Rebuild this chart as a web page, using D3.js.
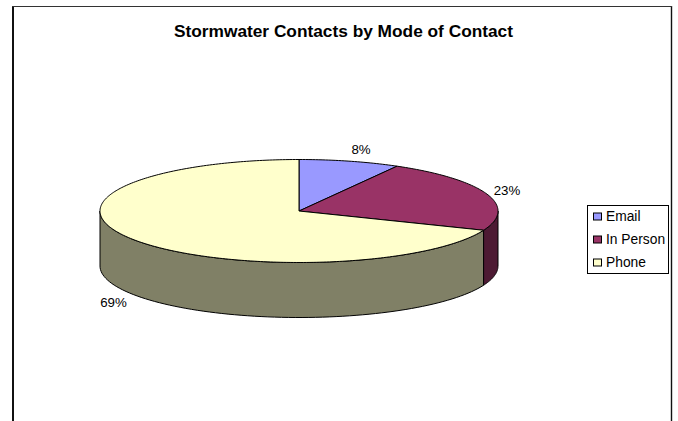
<!DOCTYPE html>
<html><head><meta charset="utf-8">
<script src="https://cdnjs.cloudflare.com/ajax/libs/d3/7.8.5/d3.min.js"></script>
<style>html,body{margin:0;padding:0;background:#fff}svg{display:block}text{font-family:"Liberation Sans",Arial,sans-serif;fill:#000}</style>
</head><body><svg id="c" width="678" height="421"></svg>
<script>
const categories=["Email","In Person","Phone"];
const values=[8.2,22.9,68.9];
const labels=["8%","23%","69%"];
const topColors=["#9999FF","#993366","#FFFFCC"];
const sideColors=["#4d4d80","#4d1a33","#808066"];
const title="Stormwater Contacts by Mode of Contact";

const W=678,H=421,cx=299,cy=211,rx=199,ry=51.5,depth=55;
const svg=d3.select("#c");
svg.append("path").attr("d",`M13 ${H} V6`).attr("stroke","#111").attr("stroke-width",2);
svg.append("path").attr("d",`M671.5 ${H} V6`).attr("stroke","#111").attr("stroke-width",1.4);
svg.append("path").attr("d",`M12 6.5 H672`).attr("stroke","#333").attr("stroke-width",1.2);
svg.append("text").attr("x",343.5).attr("y",36.5).attr("text-anchor","middle").attr("font-weight","bold").attr("font-size",16).attr("textLength",339).attr("lengthAdjust","spacingAndGlyphs").text(title);

const arcs=d3.pie().sort(null).value(d=>d)(values);
const px=a=>cx+rx*Math.sin(a), py=a=>cy-ry*Math.cos(a);
const g=svg.append("g");
const stroke=s=>s.attr("stroke","#000").attr("stroke-width",1).attr("stroke-linejoin","round");

const front=[Math.PI/2,Math.PI*1.5];
arcs.forEach((d,i)=>{
  const a0=Math.max(d.startAngle,front[0]),a1=Math.min(d.endAngle,front[1]);
  if(a1<=a0) return;
  const n=80,t=d3.range(n+1).map(k=>a0+(a1-a0)*k/n);
  const pts=t.map(a=>[px(a),py(a)]).concat(t.slice().reverse().map(a=>[px(a),py(a)+depth]));
  stroke(g.append("path").attr("d",d3.line()(pts)+"Z").attr("fill",sideColors[i]));
});
arcs.forEach((d,i)=>{
  const n=Math.max(24,Math.round((d.endAngle-d.startAngle)*60));
  const pts=[[cx,cy]].concat(d3.range(n+1).map(k=>{const a=d.startAngle+(d.endAngle-d.startAngle)*k/n;return [px(a),py(a)];}));
  stroke(g.append("path").attr("d",d3.line()(pts)+"Z").attr("fill",topColors[i]));
});
const labelPos=[[361,154],[507,195],[113.5,307]];
labels.forEach((l,i)=>svg.append("text").attr("x",labelPos[i][0]).attr("y",labelPos[i][1]).attr("text-anchor","middle").attr("font-size",13.3).text(l));
const lg=svg.append("g");
lg.append("rect").attr("x",587.5).attr("y",205.5).attr("width",81).attr("height",68).attr("fill","#fff").attr("stroke","#000");
const rowY=d3.scalePoint().domain(categories).range([216.5,262.5]);
categories.forEach((c,i)=>{
  lg.append("rect").attr("x",593.5).attr("y",rowY(c)-3.5).attr("width",8).attr("height",7).attr("fill",topColors[i]).attr("stroke","#000");
  lg.append("text").attr("x",606).attr("y",rowY(c)+4.5).attr("font-size",13.8).text(c);
});
</script></body></html>
